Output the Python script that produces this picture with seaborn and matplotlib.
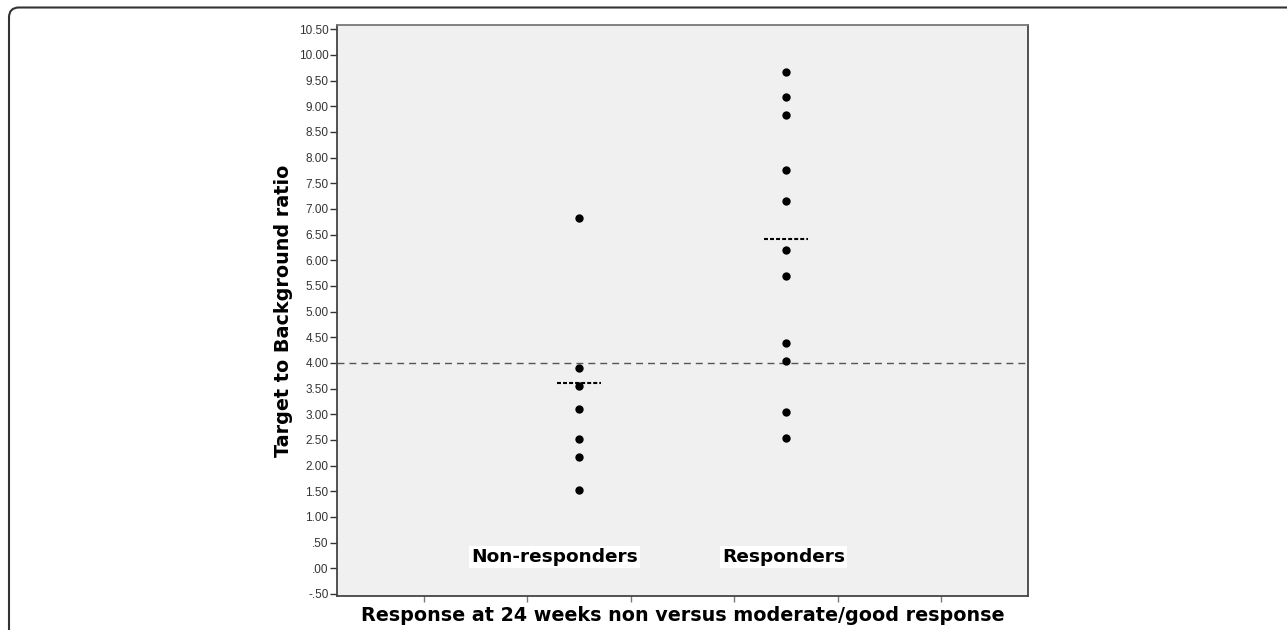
import numpy as np
import pandas as pd
import matplotlib
matplotlib.use("Agg")
import matplotlib.pyplot as plt
from matplotlib.patches import FancyBboxPatch
import seaborn as sns

# values
groups = ["Non-responders", "Responders"]
non_responders = [6.83, 3.91, 3.56, 3.11, 2.51, 2.17, 1.53]
responders = [9.67, 9.18, 8.84, 7.76, 7.15, 6.20, 5.69, 4.38, 4.03, 3.05, 2.53]
group_centres = [3.60, 6.42]
cutoff = 4.0
y_ticks = np.arange(-0.5, 10.51, 0.5)

df = pd.DataFrame({
    "group": [groups[0]] * len(non_responders) + [groups[1]] * len(responders),
    "ratio": non_responders + responders,
})


def spss_label(v):
    # SPSS style: drop the leading zero (".50", "-.50")
    s = f"{v:.2f}"
    if s.startswith("0."):
        s = s[1:]
    elif s.startswith("-0."):
        s = "-" + s[2:]
    return s


sns.set_style("white")
plt.rcParams["font.family"] = ["DejaVu Sans"]

fig = plt.figure(figsize=(12.87, 6.30), dpi=100)
ax = fig.add_axes([0.2618, 0.054, 0.537, 0.906])
ax.set_facecolor("#f0f0f0")

sns.stripplot(data=df, x="group", y="ratio", order=groups, color="black",
              jitter=False, size=6, linewidth=0, ax=ax, zorder=4)

# group centre lines
for i, m in enumerate(group_centres):
    ax.hlines(m, i - 0.108, i + 0.108, colors="black", linewidth=1.5,
              linestyles=(0, (1.9, 1.0)), zorder=3)

# reference line
ax.axhline(cutoff, color="#555555", linewidth=1.0, linestyle=(0, (5, 3.6)), zorder=2)

ax.set_xlim(-1.17, 2.17)
ax.set_ylim(-0.54, 10.58)
ax.set_yticks(y_ticks)
ax.set_yticklabels([spss_label(v) for v in y_ticks], fontfamily="Liberation Sans",
                   fontsize=8.5, color="#333333")
ax.set_xticks([-0.75, -0.25, 0.25, 0.75, 1.25, 1.75])
ax.set_xticklabels([])
ax.tick_params(axis="y", direction="out", length=5, width=1, color="#333333", pad=1, left=True)
ax.tick_params(axis="x", direction="out", length=4, width=1, color="#777777", bottom=True)

for side, sp in ax.spines.items():
    sp.set_color("#444444")
    sp.set_linewidth(1.3)
ax.spines["top"].set_color("#777777")

# category labels inside the plot
label_offsets = [-0.12, -0.01]
for i, g in enumerate(groups):
    ax.text(i + label_offsets[i], 0.22, g, ha="center", va="center", fontsize=13.3,
            fontweight="bold", color="black", zorder=5,
            bbox=dict(facecolor="white", edgecolor="none", pad=1.5))

ax.set_xlabel("Response at 24 weeks non versus moderate/good response",
              fontsize=13.8, fontweight="bold", color="black", labelpad=0)
ax.set_ylabel("Target to Background ratio", fontsize=13.8, fontweight="bold",
              color="black", labelpad=4)

# rounded page frame, cropped at right and bottom
frame = FancyBboxPatch((0.09, -1.0), 14.0, 7.225, boxstyle="round,pad=0,rounding_size=0.1",
                       transform=fig.dpi_scale_trans, facecolor="none",
                       edgecolor="#333333", linewidth=1.5, clip_on=False)
fig.patches.append(frame)

fig.savefig("out.png", dpi=100)
